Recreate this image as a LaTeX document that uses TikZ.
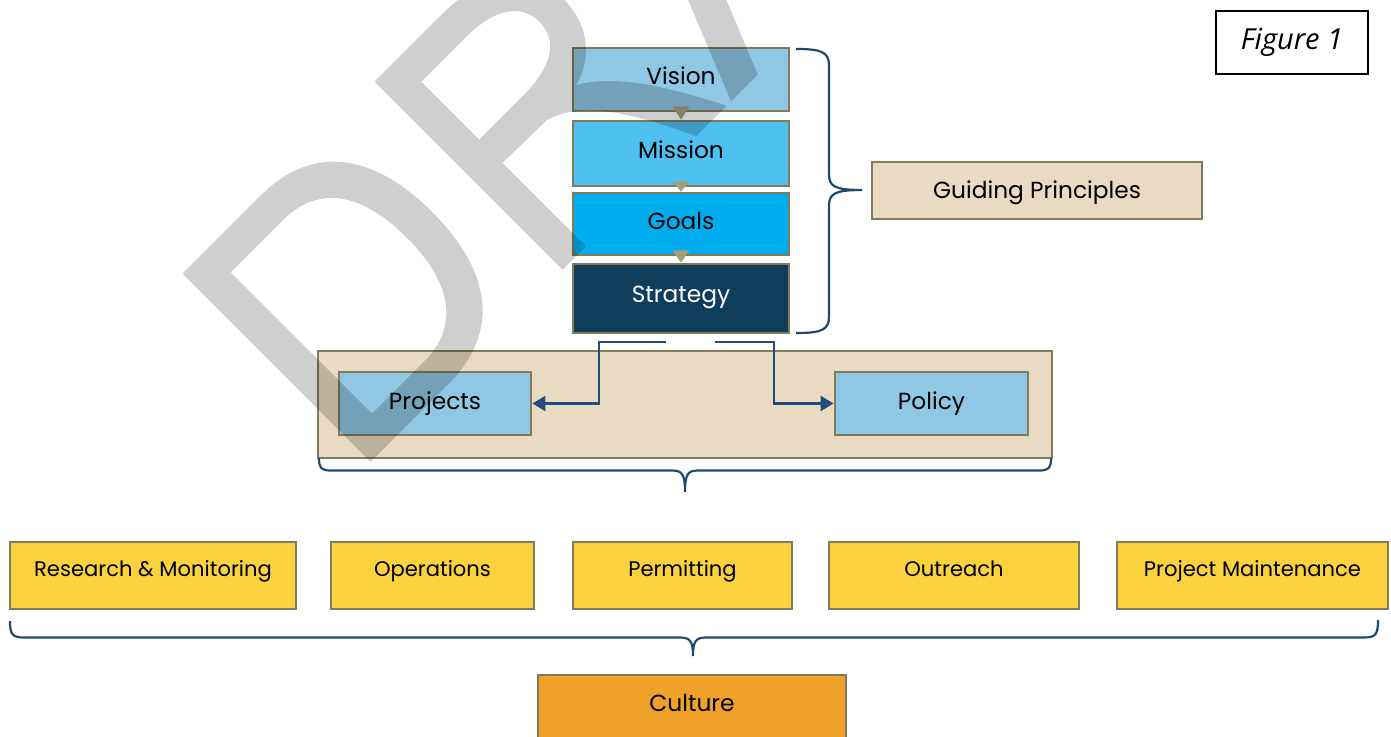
\documentclass[tikz,border=0pt]{standalone}
\usepackage{fontspec}
\newfontfamily\labfont{Poppins}
\newfontfamily\figfont{Open Sans}
\usetikzlibrary{arrows.meta,calc}
\definecolor{bordr}{HTML}{7F7B5B}
\definecolor{lblue}{HTML}{8FC7E4}
\definecolor{mblue}{HTML}{4FC1F0}
\definecolor{gblue}{HTML}{00AEEF}
\definecolor{dblue}{HTML}{0F3D5B}
\definecolor{tan}{HTML}{E8DBC1}
\definecolor{yell}{HTML}{FAD23E}
\definecolor{orng}{HTML}{F0A129}
\definecolor{trif}{HTML}{A29F7A}
\definecolor{connc}{HTML}{234D80}
\definecolor{bracec}{HTML}{1F4A6E}
\begin{document}
\begin{tikzpicture}[x=1pt,y=-1pt,
  box/.style={draw=bordr, line width=2.8pt, inner sep=0pt, text=black,
    font={\labfont\fontsize{23.3}{26}\selectfont}, text height=16pt},
  stackbox/.style={box, minimum width=216pt, text depth=6pt},
  yellbox/.style={box, fill=yell, minimum height=67pt, text height=14.7pt, text depth=13pt,
    font={\labfont\fontsize{21.1}{24}\selectfont}},
  conn/.style={draw=connc, line width=2.2pt, -{Triangle[length=13pt,width=15pt]}},
  bracel/.style={draw=bracec, line width=2.2pt},
  tri/.style={fill=trif},
  wmfill/.style={fill=black, fill opacity=0.19, even odd rule}]
\useasboundingbox (0,0) rectangle (1391,736);
\clip (0,0) rectangle (1391,736);
\fill[white] (0,0) rectangle (1391,736);

% stack
\node[stackbox, fill=lblue, minimum height=63pt] (vision) at (681,79.5) {Vision};
\node[stackbox, fill=mblue, minimum height=65pt] (mission) at (681,153.5) {Mission};
\node[stackbox, fill=gblue, minimum height=62pt] (goals) at (681,224) {Goals};
\node[stackbox, fill=dblue, minimum height=69pt, text=white, text depth=8pt] (strategy) at (681,298.5) {Strategy};

\fill[tri] ($(vision.south)+(-8.5,-6)$) -- ($(vision.south)+(8.5,-6)$) -- (mission.north) -- cycle;
\fill[tri] ($(mission.south)+(-8.5,-6)$) -- ($(mission.south)+(8.5,-6)$) -- (goals.north) -- cycle;
\fill[tri] ($(goals.south)+(-8.5,-6)$) -- ($(goals.south)+(8.5,-6)$) -- (strategy.north) -- cycle;

% guiding principles
\node[box, fill=tan, minimum width=330pt, minimum height=57pt, text depth=1pt] (guiding) at (1037,190.5) {Guiding Principles};
\draw[bracel] (796,49) .. controls (822,49) and (829,52) .. (829,66) -- (829,174)
  .. controls (829,186) and (834,190) .. (862,190)
  .. controls (834,190) and (829,194) .. (829,206) -- (829,316)
  .. controls (829,330) and (822,333) .. (796,333);

% figure label
\node[draw=black, line width=1.3pt, fill=white, minimum width=152pt, minimum height=63pt,
  inner sep=0pt, font={\figfont\itshape\fontsize{29}{32}\selectfont}] (fig) at (1292,42.5) {Figure 1};

% projects / policy
\node[box, fill=tan, minimum width=734pt, minimum height=107pt] (tanbox) at (685,404.5) {};
\node[box, fill=lblue, minimum width=192pt, minimum height=63pt, text depth=5pt] (projects) at (435,403.5) {Projects};
\node[box, fill=lblue, minimum width=193pt, minimum height=63pt, text depth=5pt] (policy) at (931.5,403.5) {Policy};

\coordinate (sl) at (666,342);
\coordinate (kl) at (599,342);
\coordinate (sr) at (715,342);
\coordinate (kr) at (774,342);
\draw[conn] (sl) -- (kl) |- (projects.east);
\draw[conn] (sr) -- (kr) |- (policy.west);

\draw[bracel] (319,458) .. controls (319,468) and (321,470.5) .. (331,470.5) -- (672,470.5)
  .. controls (682,470.5) and (685,474) .. (685,492)
  .. controls (685,474) and (688,470.5) .. (698,470.5) -- (1039,470.5)
  .. controls (1049,470.5) and (1051,468) .. (1051,458);

% yellow row
\node[yellbox, minimum width=286pt] (research) at (153,575.5) {Research \& Monitoring};
\node[yellbox, minimum width=203pt] (operations) at (432.5,575.5) {Operations};
\node[yellbox, minimum width=219pt] (permitting) at (682.5,575.5) {Permitting};
\node[yellbox, minimum width=250pt] (outreach) at (954,575.5) {Outreach};
\node[yellbox, minimum width=271pt] (projmaint) at (1252.5,575.5) {Project Maintenance};

\draw[bracel] (10,621) .. controls (10,634) and (12,637.5) .. (24,637.5) -- (680,637.5)
  .. controls (690,637.5) and (693,641) .. (693,656)
  .. controls (693,641) and (696,637.5) .. (706,637.5) -- (1364,637.5)
  .. controls (1376,637.5) and (1378,634) .. (1378,620);

% culture
\node[box, fill=orng, minimum width=308pt, minimum height=75pt, text depth=19pt] (culture) at (692,712.5) {Culture};

% watermark (DRAFT, rotated, partly outside the page)
\begin{scope}[shift={(370.7,461.7)}, rotate=45]
  % D
  \fill[wmfill] (0,0) -- (0,-266) -- (110,-266)
      .. controls (185,-266) and (220,-215) .. (220,-133)
      .. controls (220,-51) and (185,0) .. (110,0) -- cycle
    (35,-33) -- (35,-233) -- (108,-233)
      .. controls (160,-233) and (184,-195) .. (184,-133)
      .. controls (184,-71) and (160,-33) .. (108,-33) -- cycle;
  \begin{scope}[shift={(271.5,0)}]
    % R
    \fill[wmfill] (0,0) -- (0,-266) -- (95,-266)
        .. controls (160,-266) and (192,-235) .. (192,-192)
        .. controls (192,-152) and (168,-128) .. (140,-121)
        .. controls (178,-100) and (207,-48) .. (232,0) -- (189,0)
        .. controls (165,-50) and (138,-104) .. (95,-117) -- (33,-118) -- (33,0) -- cycle
      (33,-151) -- (33,-233) -- (95,-233)
        .. controls (140,-233) and (159,-215) .. (159,-192)
        .. controls (159,-168) and (140,-151) .. (95,-151) -- cycle;
    % A (left stroke)
    \fill[wmfill] (238,0) -- (276,0) -- (384,-266) -- (346,-266) -- cycle;
  \end{scope}
\end{scope}
\end{tikzpicture}
\end{document}
